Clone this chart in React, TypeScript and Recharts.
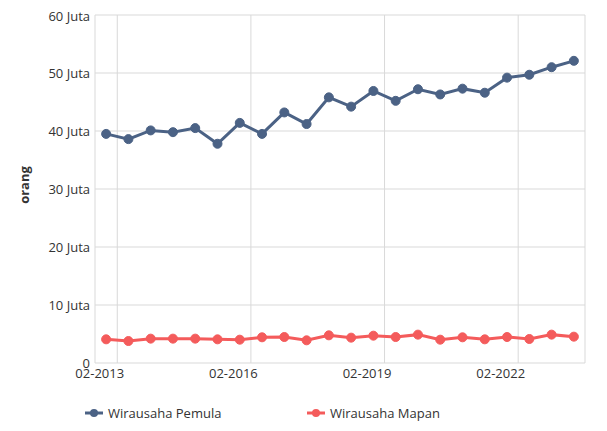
import React from 'react';
import { CartesianGrid, Line, LineChart, XAxis, YAxis } from 'recharts';

const periods = [
	'02-2013', '08-2013', '02-2014', '08-2014', '02-2015', '08-2015',
	'02-2016', '08-2016', '02-2017', '08-2017', '02-2018', '08-2018',
	'02-2019', '08-2019', '02-2020', '08-2020', '02-2021', '08-2021',
	'02-2022', '08-2022', '02-2023', '08-2023',
];

// juta orang
const pemula = [
	39.5, 38.6, 40.1, 39.8, 40.5, 37.8, 41.4, 39.5, 43.2, 41.2, 45.8,
	44.2, 46.9, 45.2, 47.2, 46.3, 47.3, 46.6, 49.2, 49.7, 51.0, 52.1,
];
const mapan = [
	4.08, 3.79, 4.2, 4.2, 4.2, 4.08, 4.02, 4.43, 4.48, 3.91, 4.77,
	4.37, 4.71, 4.48, 4.89, 4.02, 4.43, 4.08, 4.48, 4.14, 4.89, 4.54,
];

const yTicks = [0, 10, 20, 30, 40, 50, 60];
const labelledPeriods = ['02-2013', '02-2016', '02-2019', '02-2022'];

const seriesNames = ['Wirausaha Pemula', 'Wirausaha Mapan'];
const colors = ['#4b6285', '#f45b5b'];

const data = periods.map((p, i) => ({
	idx: i,
	period: p,
	pemula: pemula[i],
	mapan: mapan[i],
}));

// grid lines sit between categories, labels are drawn a bit to the left
const xTicks = labelledPeriods.map((p) => periods.indexOf(p) + 0.5);

const FONT = '"Open Sans", sans-serif';

const XTick = (props: any) => {
	const { x, y, payload } = props;
	const label = periods[Math.round(payload.value - 0.5)];
	return (
		<text x={x - 17.5} y={y + 15} textAnchor="middle" fill="#333" fontSize={13} fontFamily={FONT}>
			{label}
		</text>
	);
};

const YLabel = (props: any) => {
	const { viewBox } = props;
	const cx = viewBox.x + 21;
	const cy = viewBox.y + viewBox.height / 2 - 4;
	return (
		<text
			x={cx}
			y={cy}
			transform={`rotate(-90, ${cx}, ${cy})`}
			textAnchor="middle"
			fill="#333"
			fontSize={13}
			fontWeight="bold"
			fontFamily={FONT}
		>
			orang
		</text>
	);
};

const LegendIcon = ({ color }: { color: string }) => (
	<svg width={18} height={10} style={{ display: 'block' }}>
		<line x1={0} y1={5} x2={18} y2={5} stroke={color} strokeWidth={3} />
		<circle cx={9} cy={5} r={4} fill={color} />
	</svg>
);

const legendLefts = [77, 299];

const App: React.FC = () => {
	return (
		<div style={{ position: 'relative', width: 599, height: 423, fontFamily: FONT }}>
			<LineChart
				width={599}
				height={423}
				data={data}
				margin={{ top: 7, right: 22, left: 0, bottom: 38 }}
			>
				<CartesianGrid stroke="#d9d9d9" />
				<XAxis
					dataKey="idx"
					type="number"
					domain={[-0.5, 21.5]}
					ticks={xTicks}
					height={30}
					axisLine={false}
					tickLine={false}
					tickSize={0}
					tickMargin={0}
					tick={<XTick />}
					interval={0}
				/>
				<YAxis
					width={87}
					domain={[0, 60]}
					ticks={yTicks}
					axisLine={false}
					tickLine={false}
					tickSize={0}
					tickMargin={5}
					tick={{ fill: '#333', fontSize: 13, fontFamily: FONT }}
					tickFormatter={(v: number) => (v === 0 ? '0' : `${v} Juta`)}
					label={<YLabel />}
				/>
				<Line
					dataKey="pemula"
					name={seriesNames[0]}
					stroke={colors[0]}
					strokeWidth={3}
					dot={{ r: 4.5, fill: colors[0], stroke: colors[0], strokeWidth: 1 }}
					activeDot={false}
					isAnimationActive={false}
				/>
				<Line
					dataKey="mapan"
					name={seriesNames[1]}
					stroke={colors[1]}
					strokeWidth={3}
					dot={{ r: 4.5, fill: colors[1], stroke: colors[1], strokeWidth: 1 }}
					activeDot={false}
					isAnimationActive={false}
				/>
			</LineChart>
			{seriesNames.map((name, i) => (
				<div
					key={name}
					style={{
						position: 'absolute',
						left: legendLefts[i],
						top: 396,
						height: 18,
						display: 'flex',
						alignItems: 'center',
						gap: 5,
						fontSize: 13,
						color: '#333',
						whiteSpace: 'nowrap',
					}}
				>
					<LegendIcon color={colors[i]} />
					<span>{name}</span>
				</div>
			))}
		</div>
	);
};

export default App;
